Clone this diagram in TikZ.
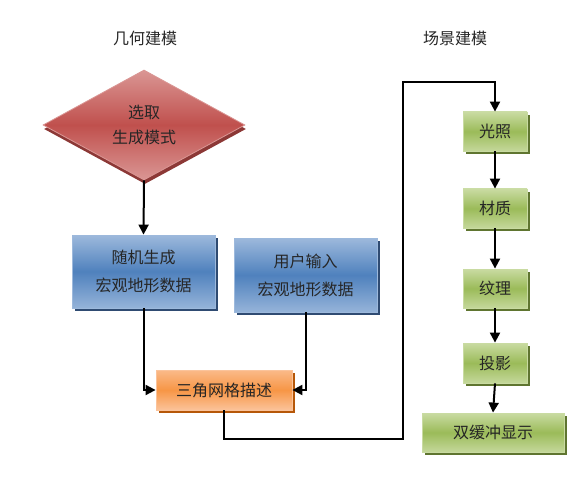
\documentclass[tikz,border=0pt]{standalone}
\usepackage{fontspec}
\setmainfont{Noto Sans CJK SC}
\usetikzlibrary{arrows.meta,shapes.geometric,shadows}
\definecolor{redM}{HTML}{C0504D}
\definecolor{redL}{HTML}{DA9694}
\definecolor{redD}{HTML}{8C3836}
\definecolor{bluM}{HTML}{4F81BD}
\definecolor{bluL}{HTML}{9DB9DC}
\definecolor{bluD}{HTML}{2F4B72}
\definecolor{orgM}{HTML}{F79646}
\definecolor{orgL}{HTML}{FBC39A}
\definecolor{orgD}{HTML}{B65708}
\definecolor{grnM}{HTML}{9BBB59}
\definecolor{grnL}{HTML}{C9DBA2}
\definecolor{grnD}{HTML}{5F7530}
\tikzset{
  arr/.style={draw=black, line width=2pt, -{Triangle[length=10pt,width=10pt]}},
  lbl/.style={font=\fontsize{16}{20}\selectfont, text=black!85},
  boxbase/.style={rectangle, inner sep=0pt, align=center, line width=0.8pt, text=black!85},
  redbox/.style={diamond, inner sep=0pt, aspect=1.84, align=center, draw=redL, line width=0.8pt,
     top color=redL, bottom color=redL, middle color=redM,
     drop shadow={shadow xshift=1pt, shadow yshift=-4pt, fill=redD, opacity=1},
     font=\fontsize{16}{25}\selectfont, text=black!85},
  blubox/.style={boxbase, draw=bluL, top color=bluL, bottom color=bluL!90!bluM, middle color=bluM,
     drop shadow={shadow xshift=3pt, shadow yshift=-3pt, fill=bluD, opacity=1},
     font=\fontsize{16}{28}\selectfont},
  orgbox/.style={boxbase, draw=orgL, top color=orgL!80!orgM, bottom color=orgL, middle color=orgM,
     drop shadow={shadow xshift=3pt, shadow yshift=-3pt, fill=orgD, opacity=1},
     font=\fontsize{16}{20}\selectfont},
  grnbox/.style={boxbase, draw=grnL, top color=grnL, bottom color=grnL!90!grnM, middle color=grnM,
     drop shadow={shadow xshift=3pt, shadow yshift=-3pt, fill=grnD, opacity=1},
     font=\fontsize{16}{20}\selectfont},
}
\begin{document}
\begin{tikzpicture}[x=1pt,y=-1pt]
\useasboundingbox (0,0) rectangle (580,478);
\node[lbl] (t1) at (145,38) {几何建模};
\node[lbl] (t2) at (455,38) {场景建模};
\node[redbox, minimum width=202pt, minimum height=110pt] (d) at (144,125) {选取\\生成模式};
\node[blubox, minimum width=143pt, minimum height=73pt] (b1) at (143.5,271.5) {随机生成\\宏观地形数据};
\node[blubox, minimum width=143pt, minimum height=74pt] (b2) at (305.5,275) {用户输入\\宏观地形数据};
\node[orgbox, minimum width=136pt, minimum height=40pt] (o) at (224,390) {三角网格描述};
\node[grnbox, minimum width=64pt, minimum height=39pt] (g1) at (495,131.5) {光照};
\node[grnbox, minimum width=64pt, minimum height=39pt] (g2) at (495,208.5) {材质};
\node[grnbox, minimum width=64pt, minimum height=39pt] (g3) at (495,288.5) {纹理};
\node[grnbox, minimum width=64pt, minimum height=40pt] (g4) at (495,363) {投影};
\node[grnbox, minimum width=142pt, minimum height=39pt] (g5) at (493,432.5) {双缓冲显示};
\coordinate (p1) at (403,439);
\coordinate (p2) at (403,82);
\draw[arr] (d.south) -- (b1.north);
\draw[arr] (b1.south) |- (o.west);
\draw[arr] (b2.south) |- (o.east);
\draw[arr] (o.south) |- (p1) -- (p2) -| (g1.north);
\draw[arr] (g1.south) -- (g2.north);
\draw[arr] (g2.south) -- (g3.north);
\draw[arr] (g3.south) -- (g4.north);
\draw[arr] (g4.south) -- (g5.north);
\end{tikzpicture}
\end{document}
